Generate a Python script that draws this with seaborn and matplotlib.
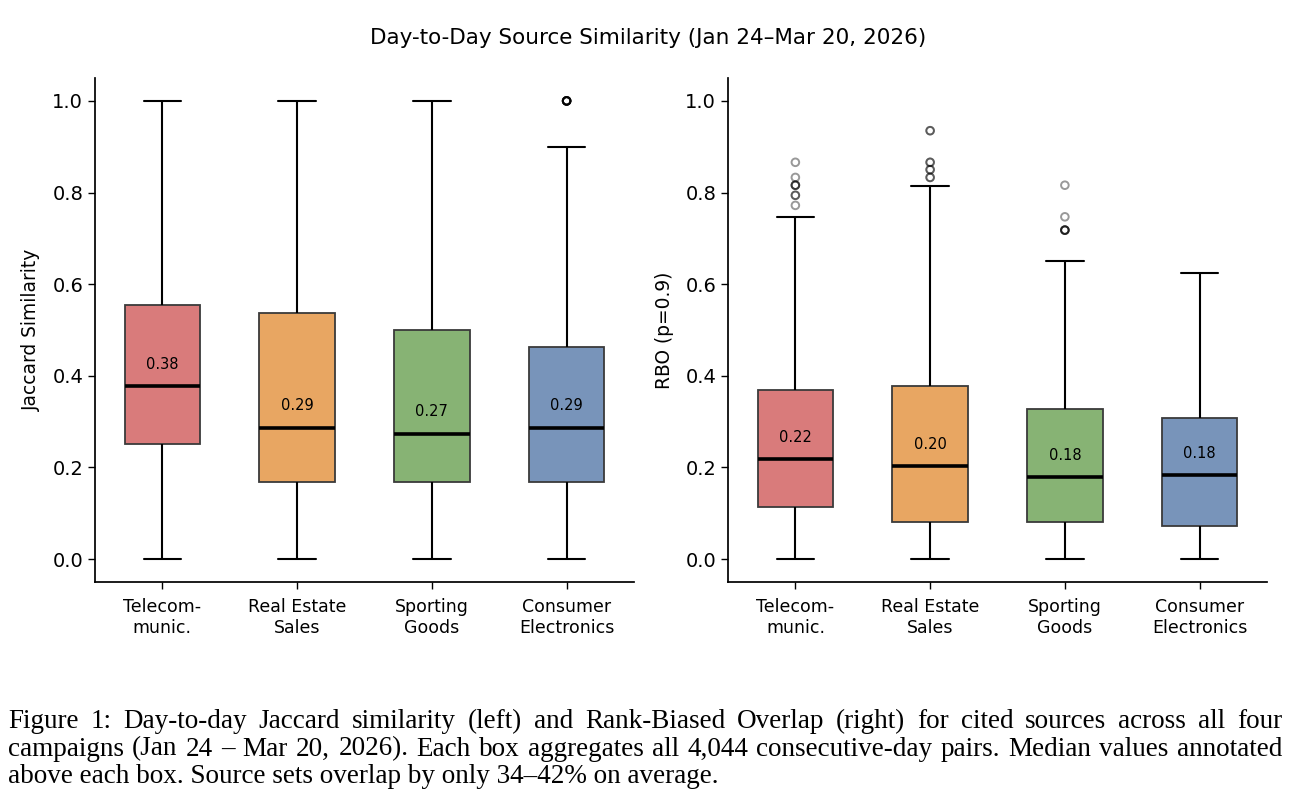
import numpy as np
import pandas as pd
import matplotlib.pyplot as plt
import seaborn as sns

sns.set_theme(style='ticks')
plt.rcParams['font.family'] = ['DejaVu Sans']
plt.rcParams['text.color'] = 'black'
plt.rcParams['axes.labelcolor'] = 'black'
plt.rcParams['xtick.color'] = 'black'
plt.rcParams['ytick.color'] = 'black'
plt.rcParams['axes.edgecolor'] = 'black'

# 数据
categories = ['Telecom-\nmunic.', 'Real Estate\nSales', 'Sporting\nGoods', 'Consumer\nElectronics']
colors = ['#D97B7B', '#E8A662', '#87B374', '#7894BA']

# 每个箱子: 下须, 下四分位, 中位数, 上四分位, 上须
jac_lo = [0.0, 0.0, 0.0, 0.0]
jac_q1 = [0.252, 0.168, 0.168, 0.168]
jac_med = [0.377, 0.287, 0.274, 0.287]
jac_q3 = [0.555, 0.538, 0.501, 0.462]
jac_hi = [1.0, 1.0, 1.0, 0.90]
jac_out = {'Consumer\nElectronics': [1.0] * 8}

rbo_lo = [0.0, 0.0, 0.0, 0.0]
rbo_q1 = [0.113, 0.080, 0.082, 0.072]
rbo_med = [0.218, 0.203, 0.179, 0.183]
rbo_q3 = [0.370, 0.378, 0.328, 0.307]
rbo_hi = [0.747, 0.815, 0.651, 0.625]
rbo_out = {
    'Telecom-\nmunic.': [0.866, 0.833, 0.816, 0.816, 0.816, 0.794, 0.794, 0.772],
    'Real Estate\nSales': [0.935, 0.935, 0.866, 0.866, 0.850, 0.850, 0.833, 0.833],
    'Sporting\nGoods': [0.816, 0.747, 0.718, 0.718, 0.718, 0.718],
}


def box_frame(lo, q1, med, q3, hi):
    rows = []
    for i, c in enumerate(categories):
        for v in (lo[i], q1[i], med[i], q3[i], hi[i]):
            rows.append({'cat': c, 'val': v})
    return pd.DataFrame(rows)


W, H = 1296, 808
fig = plt.figure(figsize=(W / 100, H / 100), dpi=100)
ax1 = fig.add_axes([95 / W, 1 - 582 / H, 539 / W, 504 / H])
ax2 = fig.add_axes([728 / W, 1 - 582 / H, 539 / W, 504 / H])

panels = [
    (ax1, box_frame(jac_lo, jac_q1, jac_med, jac_q3, jac_hi), jac_med, jac_out, 'Jaccard Similarity'),
    (ax2, box_frame(rbo_lo, rbo_q1, rbo_med, rbo_q3, rbo_hi), rbo_med, rbo_out, 'RBO (p=0.9)'),
]

for ax, df, meds, outs, ylab in panels:
    sns.boxplot(data=df, x='cat', y='val', hue='cat', order=categories,
                palette=colors, saturation=1, width=0.56, whis=(0, 100),
                linecolor='#3a3a3a', linewidth=1.3, legend=False, ax=ax,
                medianprops=dict(color='black', linewidth=2.6),
                whiskerprops=dict(color='black', linewidth=1.5),
                capprops=dict(color='black', linewidth=1.5))
    for c, vals in outs.items():
        xi = categories.index(c)
        ax.scatter([xi] * len(vals), vals, s=30, facecolors='none',
                   edgecolors='black', linewidths=1.4, alpha=0.4, zorder=3)
    for i, m in enumerate(meds):
        ax.text(i, m + 0.048, f'{m:.2f}', ha='center', va='center', fontsize=10.5)
    ax.set_xlim(-0.5, 3.5)
    ax.set_ylim(-0.05, 1.05)
    ax.set_yticks([0, 0.2, 0.4, 0.6, 0.8, 1.0])
    ax.set_xlabel('')
    ax.set_ylabel(ylab, fontsize=13.4)
    ax.yaxis.set_label_coords(-0.100, 0.5)
    ax.tick_params(axis='y', labelsize=14, length=5, width=1)
    ax.tick_params(axis='x', labelsize=12.5, length=5, width=1, pad=6.5)
    sns.despine(ax=ax)

fig.suptitle('Day-to-Day Source Similarity (Jan 24\u2013Mar 20, 2026)', fontsize=15.5,
             y=1 - 38 / H, va='center')

# 图注
cap_lines = [
    'Figure 1: Day-to-day Jaccard similarity (left) and Rank-Biased Overlap (right) for cited sources across all four',
    'campaigns (Jan 24 \u2013 Mar 20, 2026). Each box aggregates all 4,044 consecutive-day pairs. Median values annotated',
    'above each box. Source sets overlap by only 34\u201342% on average.',
]
cap_kw = dict(family='Liberation Serif', fontsize=19.5, va='baseline', color='black')
renderer = fig.canvas.get_renderer()
for k, line in enumerate(cap_lines):
    y = 1 - (728 + 27.5 * k) / H
    if k == len(cap_lines) - 1:
        fig.text(8 / W, y, line, **cap_kw)
        continue
    words = line.split(' ')
    texts = [fig.text(0, y, w, **cap_kw) for w in words]
    widths = [t.get_window_extent(renderer).width for t in texts]
    gap = (1282 - 8 - sum(widths)) / (len(words) - 1)
    x = 8
    for t, w in zip(texts, widths):
        t.set_x(x / W)
        x += w + gap

fig.savefig('out.png', dpi=100)
